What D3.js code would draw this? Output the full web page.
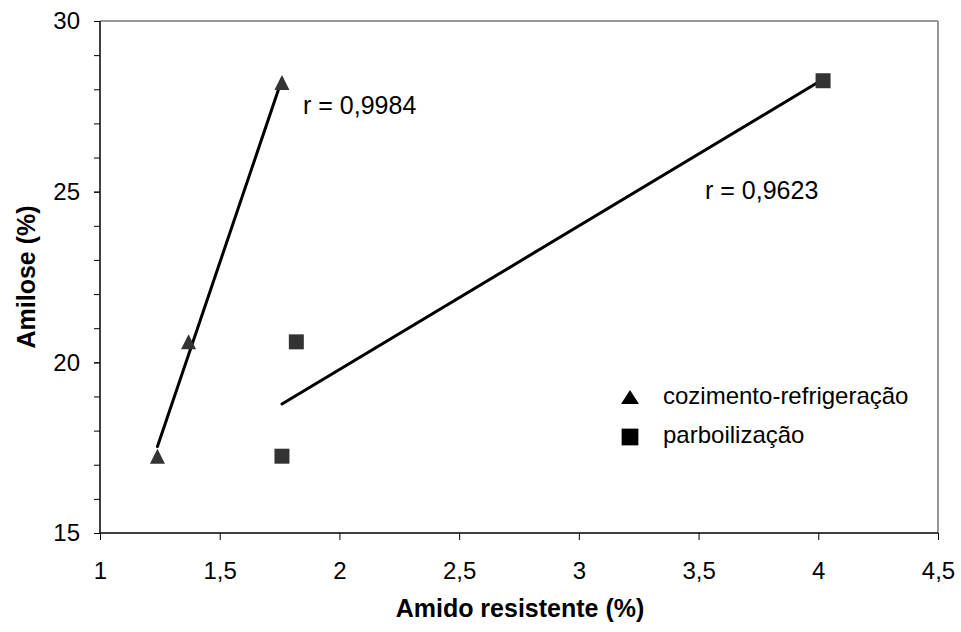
<!DOCTYPE html>
<html>
<head>
<meta charset="utf-8">
<script src="https://cdn.jsdelivr.net/npm/d3@7"></script>
<style>
  body { margin: 0; background: #fff; }
  text { font-family: "Liberation Sans", Arial, sans-serif; }
</style>
</head>
<body>
<div id="chart"></div>
<script>
// data
var seriesNames = ["cozimento-refrigeração", "parboilização"];
var cozX = [1.24, 1.37, 1.76];
var cozY = [17.25, 20.6, 28.2];
var parX = [1.76, 1.82, 4.02];
var parY = [17.25, 20.6, 28.25];
var rLabels = ["r = 0,9984", "r = 0,9623"];
var xTicks = [1, 1.5, 2, 2.5, 3, 3.5, 4, 4.5];
var yTicks = [15, 20, 25, 30];

var W = 961, H = 632;
var margin = {top: 21, right: 23, bottom: 99, left: 100};
var width = W - margin.left - margin.right,
    height = H - margin.top - margin.bottom;

var svg = d3.select("#chart").append("svg")
    .attr("width", W).attr("height", H);
var g = svg.append("g")
    .attr("transform", "translate(" + margin.left + "," + margin.top + ")");

var x = d3.scaleLinear().domain([1, 4.5]).range([0, width]);
var y = d3.scaleLinear().domain([15, 30]).range([height, 0]);

// frame top/right in gray
g.append("line").attr("x1", 0).attr("x2", width).attr("y1", 0).attr("y2", 0)
    .attr("stroke", "#999").attr("stroke-width", 2);
g.append("line").attr("x1", width).attr("x2", width).attr("y1", 0).attr("y2", height)
    .attr("stroke", "#999").attr("stroke-width", 2);

// minor y ticks every 1
var yAxisMinor = d3.axisLeft(y).tickValues(d3.range(15, 31, 1)).tickSize(6).tickFormat("");
g.append("g").call(yAxisMinor).call(function(s){
  s.select(".domain").remove();
  s.selectAll("line").attr("stroke", "#000");
});

var fmt = function(d){ return String(d).replace(".", ","); };

var yAxis = d3.axisLeft(y).tickValues(yTicks).tickSize(6).tickPadding(14).tickFormat(fmt);
g.append("g").call(yAxis).call(function(s){
  s.select(".domain").attr("stroke", "#000").attr("stroke-width", 1.5).attr("d", "M0,0V" + height);
  s.selectAll("line").attr("stroke", "#000");
  s.selectAll("text").attr("font-size", 24).attr("fill", "#000")
    .style("font-family", "Liberation Sans, Arial, sans-serif");
});

var xAxis = d3.axisBottom(x).tickValues(xTicks).tickSize(7).tickPadding(22).tickFormat(fmt);
g.append("g").attr("transform", "translate(0," + height + ")").call(xAxis).call(function(s){
  s.select(".domain").attr("stroke", "#000").attr("stroke-width", 1.5).attr("d", "M0,0H" + width);
  s.selectAll("line").attr("stroke", "#000");
  s.selectAll("text").attr("font-size", 24).attr("fill", "#000")
    .style("font-family", "Liberation Sans, Arial, sans-serif");
});

// axis titles
svg.append("text")
    .attr("transform", "translate(" + 35 + "," + (margin.top + height / 2) + ") rotate(-90)")
    .attr("text-anchor", "middle")
    .attr("font-size", 25).attr("font-weight", "bold")
    .text("Amilose (%)");
svg.append("text")
    .attr("x", 520).attr("y", 617)
    .attr("text-anchor", "middle")
    .attr("font-size", 25).attr("font-weight", "bold")
    .text("Amido resistente (%)");

// linear regression lines
function fit(xs, ys) {
  var mx = d3.mean(xs), my = d3.mean(ys), sxx = 0, sxy = 0;
  xs.forEach(function(v, i){ sxx += (v - mx) * (v - mx); sxy += (v - mx) * (ys[i] - my); });
  var b = sxy / sxx, a = my - b * mx;
  var x0 = d3.min(xs), x1 = d3.max(xs);
  return [[x0, a + b * x0], [x1, a + b * x1]];
}
var line = d3.line().x(function(d){ return x(d[0]); }).y(function(d){ return y(d[1]); });

[[cozX, cozY], [parX, parY]].forEach(function(s){
  g.append("path").attr("d", line(fit(s[0], s[1])))
    .attr("stroke", "#000").attr("stroke-width", 3).attr("fill", "none")
    .attr("stroke-linecap", "round");
});

// triangle like the source (about as tall as wide)
function triangle(w, h) {
  return {draw: function(ctx){
    ctx.moveTo(0, -h / 2); ctx.lineTo(w / 2, h / 2); ctx.lineTo(-w / 2, h / 2); ctx.closePath();
  }};
}
var tri = d3.symbol().type(triangle(15, 15));
var sq = d3.symbol().type(d3.symbolSquare).size(225);
var legTri = d3.symbol().type(triangle(18, 14));
var legSq = d3.symbol().type(d3.symbolSquare).size(280);

g.selectAll(".tri").data(cozX).enter().append("path")
    .attr("class", "tri")
    .attr("d", tri)
    .attr("transform", function(d, i){ return "translate(" + x(d) + "," + y(cozY[i]) + ")"; })
    .attr("fill", "#333");

g.selectAll(".sq").data(parX).enter().append("path")
    .attr("class", "sq")
    .attr("d", sq)
    .attr("transform", function(d, i){ return "translate(" + x(d) + "," + y(parY[i]) + ")"; })
    .attr("fill", "#333");

// r labels
g.append("text").attr("x", x(1.848)).attr("y", y(27.28))
    .attr("font-size", 25).text(rLabels[0]);
g.append("text").attr("x", x(3.527)).attr("y", y(24.79))
    .attr("font-size", 25).text(rLabels[1]);

// legend
var leg = g.append("g").attr("transform", "translate(" + (630 - margin.left) + "," + (397 - margin.top) + ")");
leg.append("path").attr("d", legTri).attr("fill", "#000");
leg.append("text").attr("x", 33).attr("y", 7).attr("font-size", 24).text(seriesNames[0]);
leg.append("path").attr("d", legSq).attr("transform", "translate(0,40)").attr("fill", "#000");
leg.append("text").attr("x", 33).attr("y", 46).attr("font-size", 24).text(seriesNames[1]);
</script>
</body>
</html>
